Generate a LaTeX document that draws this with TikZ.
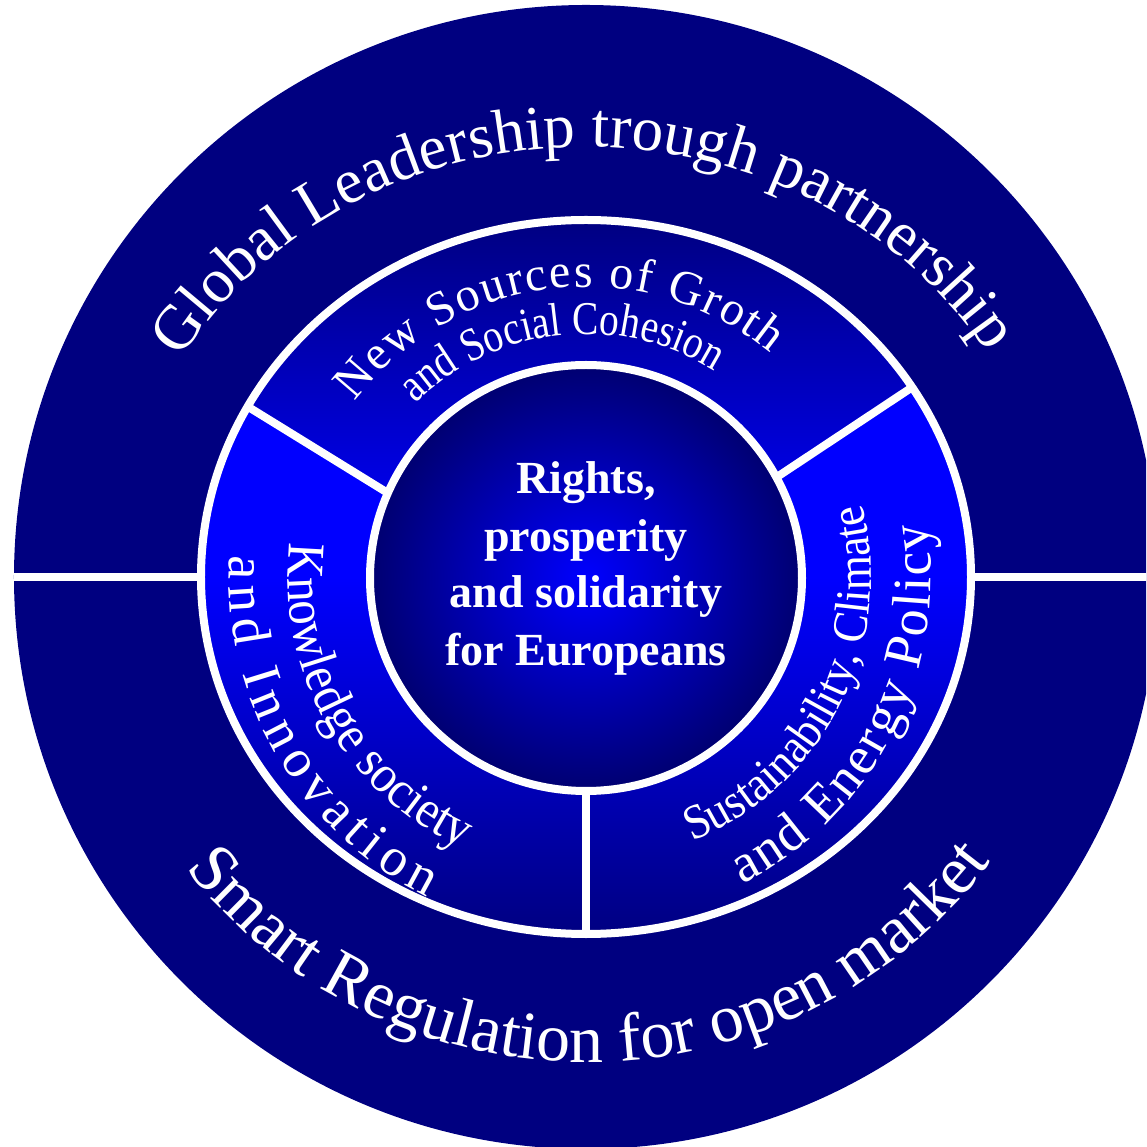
\documentclass[tikz,border=0pt]{standalone}
\usepackage{fontspec}
\setmainfont{Liberation Serif}
\newfontfamily\condfont[FakeStretch=0.84]{Liberation Serif}
\newfontfamily\semicondfont[FakeStretch=0.92]{Liberation Serif}
\usetikzlibrary{decorations.text}
\definecolor{navyc}{RGB}{0,0,128}
\definecolor{bluec}{RGB}{0,0,255}
\definecolor{topbot}{RGB}{0,0,240}
\definecolor{innerout}{RGB}{0,0,112}
\begin{document}
\begin{tikzpicture}[x=1pt,y=1pt,
  whiteline/.style={white, line width=8pt},
  centertext/.style={text=white, font=\fontsize{46}{57}\selectfont\bfseries, anchor=base, inner sep=0pt}
]
\useasboundingbox (-586,-570) rectangle (560,577);
\clip (-586,-570) rectangle (560,577);
% outer disk
\fill[navyc] (0,0) circle[radius=572pt];
\draw[whiteline] (-572,0) -- (572,0);
% middle ring sectors
\begin{scope}
  \clip (0,0) ellipse[x radius=385pt, y radius=357pt];
  \begin{scope}
    \clip (-400,208.5) -- (-150,54.3) -- (150,72.8) -- (400,238.8) -- (400,400) -- (-400,400) -- cycle;
    \shade[top color=navyc, bottom color=topbot] (-400,361) rectangle (400,60);
  \end{scope}
  \begin{scope}
    \clip (-400,208.5) -- (-150,54.3) -- (150,72.8) -- (400,238.8) -- (400,-400) -- (-400,-400) -- cycle;
    \fill[bluec] (-400,240) rectangle (400,0);
    \shade[top color=bluec, bottom color=navyc] (-400,0) rectangle (400,-361);
  \end{scope}
  \draw[whiteline] (-150,54.3) -- (-400,208.5);
  \draw[whiteline] (150,72.8) -- (400,238.8);
  \draw[whiteline] (0,-150) -- (0,-400);
\end{scope}
\draw[whiteline] (0,0) ellipse[x radius=385pt, y radius=357pt];
% inner disk
\shade[inner color=bluec, outer color=innerout] (0,-1) ellipse[x radius=216pt, y radius=213pt];
\draw[whiteline] (0,-1) ellipse[x radius=216pt, y radius=213pt];
% outer ring texts
\path[decorate, decoration={text along path, text color=white, text align=center,
  text={|\fontsize{63}{63}\selectfont|Global Leadership trough partnership}}]
  (160:470pt and 430pt) arc[start angle=160, end angle=21, x radius=470pt, y radius=430pt];
\path[decorate, decoration={text along path, text color=white, text align=center,
  text={|\fontsize{68}{68}\selectfont|Smart Regulation for open market}}]
  (207:500pt and 485pt) arc[start angle=207, end angle=334, x radius=500pt, y radius=485pt];
% top sector
\path[decorate, decoration={text along path, text color=white, text align={fit to path},
  text={|\fontsize{48}{48}\selectfont|New Sources of Groth}}]
  (142.8:290pt) arc[start angle=142.8, end angle=50.5, radius=290pt];
\path[decorate, decoration={text along path, text color=white, text align=center,
  text={|\condfont\fontsize{47}{47}\selectfont|and Social Cohesion}}]
  (145:243pt) arc[start angle=145, end angle=47.5, radius=243pt];
% left sector
\path[decorate, decoration={text along path, text color=white, text align=center,
  text={|\semicondfont\fontsize{53}{53}\selectfont|Knowledge society}}]
  (162:298pt) arc[start angle=162, end angle=257, radius=298pt];
\path[decorate, decoration={text along path, text color=white, text align={fit to path},
  text={|\fontsize{54}{54}\selectfont|and Innovation}}]
  (176.5:357pt) arc[start angle=176.5, end angle=243.6, radius=357pt];
% right sector
\path[decorate, decoration={text along path, text color=white, text align=center,
  text={|\semicondfont\fontsize{49}{49}\selectfont|Sustainability, Climate}}]
  (-76:285pt) arc[start angle=-76, end angle=22.7, radius=285pt];
\path[decorate, decoration={text along path, text color=white, text align={fit to path},
  text={|\fontsize{54}{54}\selectfont|and Energy Policy}}]
  (-63:345pt) arc[start angle=-63, end angle=9.1, radius=345pt];
% centre text
\node[centertext] (c1) at (0,83) {Rights,};
\node[centertext] (c2) at (0,25) {prosperity};
\node[centertext] (c3) at (0,-31) {and solidarity};
\node[centertext] (c4) at (0,-89) {for Europeans};
\end{tikzpicture}
\end{document}
